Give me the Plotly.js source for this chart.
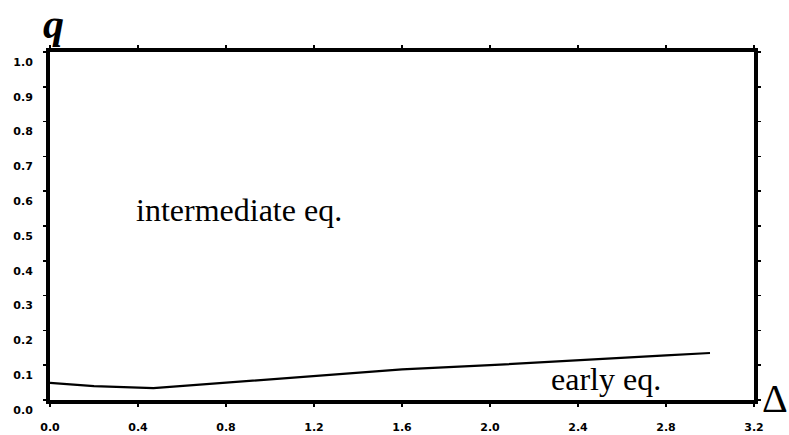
<!DOCTYPE html>
<html><head><meta charset="utf-8">
<script src="https://cdn.plot.ly/plotly-3.0.1.min.js"></script>
<style>html,body{margin:0;padding:0;background:#fff}#c{width:789px;height:435px}</style>
</head><body><div id="c"></div>
<script>
const deltaVals = [0, 0.2, 0.47, 0.8, 1.2, 1.6, 2.0, 2.4, 2.8, 3.0];
const qVals = [0.049, 0.040, 0.034, 0.050, 0.070, 0.088, 0.100, 0.115, 0.128, 0.135];
const xTicks = [0, 0.4, 0.8, 1.2, 1.6, 2.0, 2.4, 2.8, 3.2];
const xTickLabels = ['0.0','0.4','0.8','1.2','1.6','2.0','2.4','2.8','3.2'];
const yTicks = [0,0.1,0.2,0.3,0.4,0.5,0.6,0.7,0.8,0.9,1.0];
const yTickLabels = ['0.0','0.1','0.2','0.3','0.4','0.5','0.6','0.7','0.8','0.9','1.0'];

const tickFont = {family:'DejaVu Sans', size:11, color:'#000', weight:'bold'};
const axisCommon = {showgrid:false, zeroline:false, showline:true, linecolor:'#000', linewidth:4,
  mirror:'allticks', ticks:'outside', ticklen:3, tickwidth:1.5, tickcolor:'#000', tickfont:tickFont, fixedrange:true};

Plotly.newPlot('c', [{
  x: deltaVals, y: qVals, mode:'lines', type:'scatter',
  line:{color:'#000', width:2.2}, hoverinfo:'skip'
}], {
  width:789, height:435,
  margin:{l:50, r:35, t:52, b:35},
  paper_bgcolor:'#fff', plot_bgcolor:'#fff', showlegend:false,
  xaxis: Object.assign({}, axisCommon, {range:[0,3.2], tickvals:xTicks, ticktext:xTickLabels, ticklabelstandoff:11}),
  yaxis: Object.assign({}, axisCommon, {range:[0,1.0], tickvals:yTicks, ticktext:yTickLabels, ticklabelstandoff:8, ticklabelshift:10}),
  annotations:[
    {xref:'paper', yref:'paper', x:0.0, y:1.0, xanchor:'left', yanchor:'bottom', xshift:-9, yshift:3,
     text:'<b><i>q</i></b>', showarrow:false, font:{family:'Liberation Serif', size:42, color:'#000'}},
    {xref:'paper', yref:'paper', x:1.0, y:0.0, xanchor:'left', yanchor:'middle', xshift:6, yshift:2,
     text:'Δ', showarrow:false, font:{family:'Liberation Serif', size:40, color:'#000'}},
    {xref:'x', yref:'y', x:0.38, y:0.545, xanchor:'left', yanchor:'middle',
     text:'intermediate eq.', showarrow:false, font:{family:'Liberation Serif', size:32, color:'#000'}},
    {xref:'x', yref:'y', x:2.27, y:0.06, xanchor:'left', yanchor:'middle',
     text:'early eq.', showarrow:false, font:{family:'Liberation Serif', size:32, color:'#000'}}
  ]
}, {staticPlot:true});
</script></body></html>
